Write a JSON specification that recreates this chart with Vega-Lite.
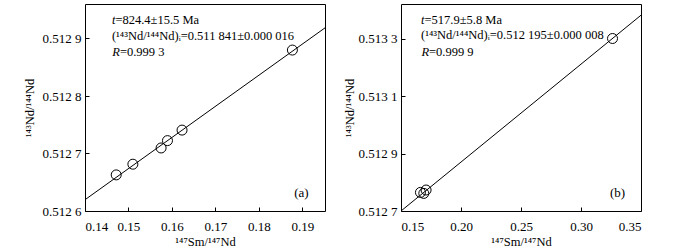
{
  "$schema": "https://vega.github.io/schema/vega-lite/v6.json",
  "background": "white",
  "padding": {"left": 22, "top": 3, "right": 0, "bottom": 0},
  "spacing": 16,
  "config": {
    "font": "Liberation Serif",
    "view": {"stroke": "black", "strokeWidth": 1},
    "axis": {
      "domain": false,
      "grid": false,
      "tickColor": "black",
      "tickSize": -4,
      "labelColor": "black",
      "titleColor": "black",
      "labelFont": "Liberation Serif",
      "titleFont": "Liberation Serif",
      "labelFontSize": 13,
      "titleFontSize": 12.5,
      "titleFontWeight": "normal"
    },
    "text": {"font": "Liberation Serif", "fontSize": 12.5, "color": "black"}
  },
  "datasets": {
    "ptsA": [
      {"sm": 0.14718, "nd": 0.5126628},
      {"sm": 0.15101, "nd": 0.5126814},
      {"sm": 0.1575, "nd": 0.5127096},
      {"sm": 0.15897, "nd": 0.5127224},
      {"sm": 0.16232, "nd": 0.5127407},
      {"sm": 0.1877, "nd": 0.5128799}
    ],
    "lineA": [
      {"sm": 0.14, "nd": 0.5126196},
      {"sm": 0.1952, "nd": 0.5129185}
    ],
    "annA": [
      {"sm": 0.147, "nd": 0.512932, "it": "t", "rest": "=824.4±15.5 Ma"},
      {"sm": 0.1462, "nd": 0.5129045, "it": "", "rest": "(¹⁴³Nd/¹⁴⁴Nd)ᵢ=0.511 841±0.000 016"},
      {"sm": 0.14803, "nd": 0.5128768, "it": "R", "rest": "=0.999 3"}
    ],
    "tagA": [{"sm": 0.18977, "nd": 0.5126312, "tag": "(a)"}],
    "ptsB": [
      {"sm": 0.1662, "nd": 0.5127647},
      {"sm": 0.169, "nd": 0.5127612},
      {"sm": 0.1709, "nd": 0.512773},
      {"sm": 0.32627, "nd": 0.5133}
    ],
    "lineB": [
      {"sm": 0.15, "nd": 0.5127},
      {"sm": 0.35, "nd": 0.513381}
    ],
    "annB": [
      {"sm": 0.16963, "nd": 0.513364, "it": "t", "rest": "=517.9±5.8 Ma"},
      {"sm": 0.1667, "nd": 0.513312, "it": "", "rest": "(¹⁴³Nd/¹⁴⁴Nd)ᵢ=0.512 195±0.000 008"},
      {"sm": 0.17339, "nd": 0.513254, "it": "R", "rest": "=0.999 9"}
    ],
    "tagB": [{"sm": 0.33045, "nd": 0.512761, "tag": "(b)"}]
  },
  "hconcat": [
    {
      "width": 240,
      "height": 207,
      "encoding": {
        "x": {"field": "sm", "type": "quantitative",
          "scale": {"domain": [0.14, 0.1952], "nice": false, "zero": false},
          "axis": {"title": "¹⁴⁷Sm/¹⁴⁷Nd", "values": [0.14, 0.15, 0.16, 0.17, 0.18, 0.19], "format": ".2f", "labelPadding": 13, "titlePadding": 2}},
        "y": {"field": "nd", "type": "quantitative",
          "scale": {"domain": [0.5126, 0.51296], "nice": false, "zero": false},
          "axis": {"title": "¹⁴³Nd/¹⁴⁴Nd", "values": [0.5126, 0.5127, 0.5128, 0.5129],
            "labelExpr": "slice(format(datum.value, '.4f'), 0, 5) + ' ' + slice(format(datum.value, '.4f'), 5)",
            "labelPadding": 8, "titlePadding": 6}}
      },
      "layer": [
        {"data": {"name": "lineA"}, "mark": {"type": "line", "color": "black", "strokeWidth": 1, "clip": true}},
        {"data": {"name": "ptsA"}, "mark": {"type": "point", "shape": "circle", "filled": false, "color": "black", "size": 100, "strokeWidth": 1, "opacity": 1}},
        {"data": {"name": "annA"}, "mark": {"type": "text", "align": "right", "baseline": "middle", "fontStyle": "italic"}, "encoding": {"text": {"field": "it"}}},
        {"data": {"name": "annA"}, "mark": {"type": "text", "align": "left", "baseline": "middle"}, "encoding": {"text": {"field": "rest"}}},
        {"data": {"name": "tagA"}, "mark": {"type": "text", "align": "center", "baseline": "middle", "fontSize": 13}, "encoding": {"text": {"field": "tag"}}}
      ]
    },
    {
      "width": 240,
      "height": 207,
      "encoding": {
        "x": {"field": "sm", "type": "quantitative",
          "scale": {"domain": [0.15, 0.35], "nice": false, "zero": false},
          "axis": {"title": "¹⁴⁷Sm/¹⁴⁷Nd", "values": [0.15, 0.2, 0.25, 0.3, 0.35], "format": ".2f", "labelPadding": 13, "titlePadding": 2}},
        "y": {"field": "nd", "type": "quantitative",
          "scale": {"domain": [0.5127, 0.51342], "nice": false, "zero": false},
          "axis": {"title": "¹⁴³Nd/¹⁴⁴Nd", "values": [0.5127, 0.5129, 0.5131, 0.5133],
            "labelExpr": "slice(format(datum.value, '.4f'), 0, 5) + ' ' + slice(format(datum.value, '.4f'), 5)",
            "labelPadding": 8, "titlePadding": 2}}
      },
      "layer": [
        {"data": {"name": "lineB"}, "mark": {"type": "line", "color": "black", "strokeWidth": 1, "clip": true}},
        {"data": {"name": "ptsB"}, "mark": {"type": "point", "shape": "circle", "filled": false, "color": "black", "size": 100, "strokeWidth": 1, "opacity": 1}},
        {"data": {"name": "annB"}, "mark": {"type": "text", "align": "right", "baseline": "middle", "fontStyle": "italic"}, "encoding": {"text": {"field": "it"}}},
        {"data": {"name": "annB"}, "mark": {"type": "text", "align": "left", "baseline": "middle"}, "encoding": {"text": {"field": "rest"}}},
        {"data": {"name": "tagB"}, "mark": {"type": "text", "align": "center", "baseline": "middle", "fontSize": 13}, "encoding": {"text": {"field": "tag"}}}
      ]
    }
  ]
}
